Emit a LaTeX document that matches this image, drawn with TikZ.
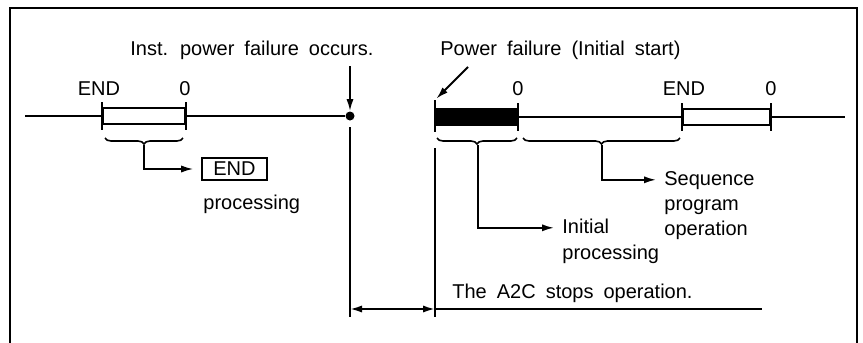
\documentclass[tikz,border=0pt]{standalone}
\usepackage{fontspec}
\setmainfont{Liberation Sans}[WordSpace=1.8]
\usetikzlibrary{arrows.meta, positioning, calc, decorations.pathreplacing}

\begin{document}
\begin{tikzpicture}[
  x=0.5pt, y=-0.5pt,
  lbl/.style={font=\fontsize{10}{12}\selectfont, inner sep=0pt, anchor=base west,
              text height=7.2pt, text depth=2pt},
  tag/.style={font=\fontsize{10}{12}\selectfont, inner sep=0pt, anchor=base},
  scanbox/.style={draw, line width=0.9pt, minimum width=#1, minimum height=8pt, inner sep=0pt},
  initbar/.style={fill=black, draw, line width=0.9pt, minimum width=#1, minimum height=8pt, inner sep=0pt},
  endbox/.style={draw, line width=0.8pt, font=\fontsize{10}{12}\selectfont,
                 minimum width=32.5pt, minimum height=11pt, inner sep=0pt},
  timeline/.style={line width=1.1pt},
  tick/.style={line width=1pt},
  vline/.style={line width=0.9pt},
  frame/.style={line width=1.3pt},
  arrow/.style={-{Latex[length=6pt, width=3.6pt]}, line width=0.9pt},
  twoway/.style={{Latex[length=6pt, width=3.6pt]}-{Latex[length=6pt, width=3.6pt]}, line width=1pt},
  brace/.style={decorate, decoration={brace, mirror, amplitude=3pt}, line width=0.8pt},
]
  \useasboundingbox (0,0) rectangle (863,343);
  \draw[frame] (10,343) |- (857,8) -- (857,343);

  % before the failure
  \coordinate (start) at (25,116);
  \node[scanbox=41pt] (scanA) at (144,116) {};
  \node[circle, fill=black, inner sep=0pt, minimum size=4.5pt] (fail) at (350,116) {};
  \draw[timeline] (start) -- (scanA.west);
  \draw[timeline] (scanA.east) -- (fail);
  \draw[tick] ([yshift=2.5pt]scanA.north west) -- ([yshift=-2.5pt]scanA.south west);
  \draw[tick] ([yshift=2.5pt]scanA.north east) -- ([yshift=-2.5pt]scanA.south east);
  \node[tag] (endA) at (99,95) {END};
  \node[tag] (zeroA) at (185,95) {0};
  \node[lbl] (inst) at (130,55) {Inst. power failure occurs.};
  \coordinate (instarrow) at (350,66);
  \draw[arrow] (instarrow) -- (fail);

  \coordinate (bA1) at (105,138); \coordinate (bA2) at (183,138);
  \coordinate (tipA) at (144,145);
  \draw[brace] (bA1) -- (bA2);
  \node[endbox] (endproc) at (234.5,169) {END};
  \node[lbl] (procA) at (203,209) {processing};
  \draw[arrow, shorten >=4pt] (tipA) |- (endproc.west);

  % after the restart
  \node[initbar=41pt] (init) at (476.5,117) {};
  \node[scanbox=43.5pt] (scanB) at (726.5,117) {};
  \coordinate (finish) at (845,117);
  \draw[timeline] (init.east) -- (scanB.west);
  \draw[timeline] (scanB.east) -- (finish);
  \coordinate (initT) at (435,100); \coordinate (initB) at (435,132);
  \draw[tick] (initT) -- (initB);
  \draw[tick] ([yshift=2.5pt]init.north east) -- ([yshift=-2.5pt]init.south east);
  \draw[tick] ([yshift=2.5pt]scanB.north west) -- ([yshift=-2.5pt]scanB.south west);
  \draw[tick] ([yshift=2.5pt]scanB.north east) -- ([yshift=-2.5pt]scanB.south east);
  \node[tag] (zeroB) at (518,95) {0};
  \node[tag] (endB) at (684,95) {END};
  \node[tag] (zeroC) at (771,95) {0};
  \node[lbl] (power) at (440,55) {Power failure (Initial start)};
  \coordinate (powarrow) at (468,67);
  \draw[arrow, shorten >=1pt] (powarrow) -- (initT);

  \coordinate (bB1) at (437,138); \coordinate (bB2) at (517,138);
  \coordinate (tipB) at (478,145);
  \coordinate (bC1) at (523,138); \coordinate (bC2) at (680,138);
  \coordinate (tipC) at (602,145);
  \draw[brace] (bB1) -- (bB2);
  \draw[brace] (bC1) -- (bC2);
  \node[lbl] (seq) at (664,185) {Sequence};
  \node[lbl] (prog) at (664,210) {program};
  \node[lbl] (oper) at (664,235) {operation};
  \node[lbl] (initl) at (562,233) {Initial};
  \node[lbl] (procB) at (562,259) {processing};
  \draw[arrow, shorten >=4pt] (tipC) |- (seq.west);
  \draw[arrow, shorten >=4pt] (tipB) |- (initl.west);

  % stop interval
  \coordinate (failT) at (350,127); \coordinate (failB) at (350,317);
  \coordinate (stopT) at (435,148); \coordinate (stopB) at (435,317);
  \draw[vline] (failT) -- (failB);
  \draw[vline] (stopT) -- (stopB);
  \coordinate (dA) at (350,309); \coordinate (dB) at (435,309);
  \coordinate (dC) at (762,309);
  \draw[twoway] (dA) -- (dB);
  \draw[line width=1.3pt] (dB) -- (dC);
  \node[lbl] (stops) at (452,298) {The A2C stops operation.};
\end{tikzpicture}
\end{document}
